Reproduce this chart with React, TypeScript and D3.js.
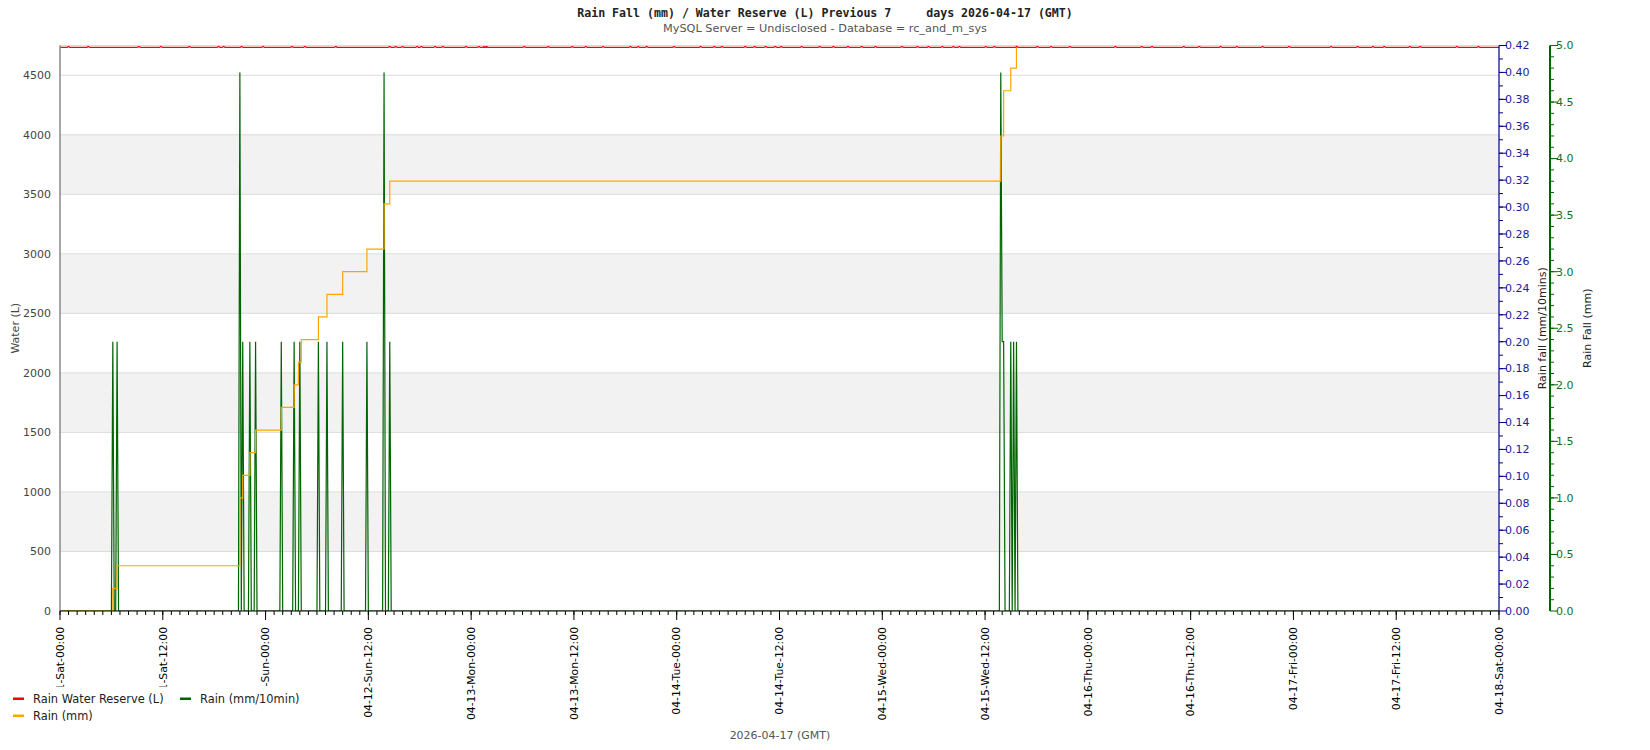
import * as d3 from "d3";

const parseTime = d3.utcParse("%Y-%m-%d %H:%M");
const startTime = "2026-04-11 00:00";
const endTime = "2026-04-18 00:00";

// Rain (mm/10min) readings that are not zero
const rainRateTimes = [
  "2026-04-11 06:10", "2026-04-11 06:40", "2026-04-11 21:00", "2026-04-11 21:20",
  "2026-04-11 22:10", "2026-04-11 22:50", "2026-04-12 01:50", "2026-04-12 03:20",
  "2026-04-12 04:00", "2026-04-12 06:10", "2026-04-12 07:10", "2026-04-12 09:00",
  "2026-04-12 11:50", "2026-04-12 13:50", "2026-04-12 14:30", "2026-04-15 13:50",
  "2026-04-15 14:00", "2026-04-15 14:10", "2026-04-15 15:00", "2026-04-15 15:20",
  "2026-04-15 15:40",
];
const rainRateValues = [
  0.2, 0.2, 0.4, 0.2,
  0.2, 0.2, 0.2, 0.2,
  0.2, 0.2, 0.2, 0.2,
  0.2, 0.4, 0.2, 0.4,
  0.2, 0.2, 0.2, 0.2,
  0.2,
];

// Rain (mm) running total, at each change
const rainTotalTimes = [
  "2026-04-11 00:00", "2026-04-11 06:10", "2026-04-11 06:40", "2026-04-11 21:00",
  "2026-04-11 21:20", "2026-04-11 22:10", "2026-04-11 22:50", "2026-04-12 01:50",
  "2026-04-12 03:20", "2026-04-12 03:50", "2026-04-12 04:10", "2026-04-12 06:10",
  "2026-04-12 07:10", "2026-04-12 09:00", "2026-04-12 11:50", "2026-04-12 13:50",
  "2026-04-12 14:30", "2026-04-15 13:50", "2026-04-15 14:10", "2026-04-15 15:00",
  "2026-04-15 15:40", "2026-04-18 00:00",
];
const rainTotalValues = [
  0, 0.2, 0.4, 1.0,
  1.2, 1.4, 1.6, 1.8,
  2.0, 2.2, 2.4, 2.6,
  2.8, 3.0, 3.2, 3.6,
  3.8, 4.2, 4.6, 4.8,
  5.2, 5.2,
];

// Water reserve: steady reading, with short higher readings at these hours
const reserveLevels = [4735, 4742];
const reserveBlipHours = [
  1.0, 3.3, 9.2, 11.8, 15.1, 18.5, 19.1, 21.2, 23.7, 27.1, 28.6, 32.2,
  38.5, 39.2, 40.0, 41.7, 42.2, 43.8, 44.7, 47.4, 48.9, 49.5, 49.8, 54.2,
  57.0, 59.8, 61.4, 63.4, 66.6, 67.5, 68.5, 71.7, 74.8, 76.4, 77.3, 80.0,
  81.1, 82.4, 83.5, 84.2, 86.6, 88.7, 90.3, 92.0, 93.6, 95.2, 98.3, 100.1,
  101.4, 103.0, 104.3, 105.0, 108.1, 109.1, 111.7, 114.1, 115.7, 117.9, 123.2, 126.3,
  127.5, 131.2, 133.0, 135.5, 137.4, 140.4, 143.5, 148.4, 151.5, 153.3, 154.6, 157.6,
  158.8, 163.1, 165.6,
];

const waterTicks = [0, 500, 1000, 1500, 2000, 2500, 3000, 3500, 4000, 4500];
const waterBands = [500, 1500, 2500, 3500];
const waterMax = 4750;
const rateMax = 0.42;
const totalMax = 5.0;

const W = 1650;
const H = 750;
const left = 60;
const right = 1499;
const top = 45.5;
const bottom = 611;
const font = "DejaVu Sans";

export default function App() {
  const t0 = parseTime(startTime)!;
  const t1 = parseTime(endTime)!;
  const x = d3.scaleTime().domain([t0, t1]).range([left, right]);
  const yWater = d3.scaleLinear().domain([0, waterMax]).range([bottom, top]);
  const yRate = d3.scaleLinear().domain([0, rateMax]).range([bottom, top]);
  const yTotal = d3.scaleLinear().domain([0, totalMax]).range([bottom, top]);

  const step = 10 * 60 * 1000;
  const hour = 3600 * 1000;

  // rain rate line: zero readings either side of each wet reading
  const rateMap = new Map<number, number>();
  rainRateTimes.forEach((t, i) => rateMap.set(+parseTime(t)!, rainRateValues[i]));
  const rateTimes = new Set<number>([+t0, +t1]);
  rateMap.forEach((_, t) => {
    rateTimes.add(t - step);
    rateTimes.add(t);
    rateTimes.add(t + step);
  });
  const ratePts = Array.from(rateTimes).sort((a, b) => a - b)
    .map(t => ({ t: new Date(t), v: rateMap.get(t) ?? 0 }));
  const rateLine = d3.line<{ t: Date; v: number }>()
    .x(d => x(d.t)).y(d => yRate(d.v))(ratePts);

  const totalPts = rainTotalTimes.map((t, i) => ({ t: parseTime(t)!, v: rainTotalValues[i] }));
  const totalLine = d3.line<{ t: Date; v: number }>()
    .curve(d3.curveStepAfter)
    .x(d => x(d.t)).y(d => yTotal(d.v))(totalPts);

  const resPts: { t: Date; v: number }[] = [{ t: t0, v: reserveLevels[0] }];
  reserveBlipHours.forEach(h => {
    const t = +t0 + h * hour;
    resPts.push({ t: new Date(t - step), v: reserveLevels[0] });
    resPts.push({ t: new Date(t), v: reserveLevels[1] });
    resPts.push({ t: new Date(t + step), v: reserveLevels[0] });
  });
  resPts.push({ t: t1, v: reserveLevels[0] });
  const resLine = d3.line<{ t: Date; v: number }>()
    .x(d => x(d.t)).y(d => yWater(d.v))(resPts);

  const majorX = d3.utcHour.every(12)!.range(t0, new Date(+t1 + 1));
  const minorX = d3.utcHour.range(t0, new Date(+t1 + 1));
  const fmt = d3.utcFormat("%m-%d-%a-%H:%M");

  const rateMajor = d3.range(0, 22).map(i => i * 0.02);
  const rateMinor = d3.range(0, 42).map(i => i * 0.01 + 0.01);
  const totalMajor = d3.range(0, 11).map(i => i * 0.5);
  const totalMinor = d3.range(0, 50).map(i => i * 0.1 + 0.1);

  const blue = "#00008b";
  const blueText = "#1c1c9c";
  const green = "#006400";
  const greenText = "#157015";

  return (
    <svg width={W} height={H} style={{ position: "absolute", left: 0, top: 0, background: "#fff" }}
      fontFamily={font}>
      <defs>
        <clipPath id="plot">
          <rect x={left} y={top} width={right - left} height={bottom - top} />
        </clipPath>
      </defs>

      {/* titles */}
      <text x={W / 2} y={16.5} textAnchor="middle" fontFamily="DejaVu Sans Mono" fontWeight="bold"
        fontSize={11.6} fill="#222" xmlSpace="preserve" style={{ whiteSpace: "pre" }}>
        {"Rain Fall (mm) / Water Reserve (L) Previous 7     days 2026-04-17 (GMT)"}
      </text>
      <text x={W / 2} y={32} textAnchor="middle" fontSize={11.3} fill="#555">
        MySQL Server = Undisclosed - Database = rc_and_m_sys
      </text>

      {/* bands and grid */}
      {waterBands.map(b => (
        <rect key={b} x={left} y={yWater(b + 500)} width={right - left}
          height={yWater(b) - yWater(b + 500)} fill="#f2f2f2" />
      ))}
      {waterTicks.slice(1).map(v => (
        <line key={v} x1={left} x2={right} y1={yWater(v)} y2={yWater(v)} stroke="#dcdcdc" />
      ))}
      <line x1={left} x2={right} y1={top} y2={top} stroke="#dcdcdc" />

      {/* series */}
      <g clipPath="url(#plot)" fill="none">
        <path d={rateLine ?? ""} stroke={green} strokeWidth={1.2} />
        <path d={totalLine ?? ""} stroke="#ffa500" strokeWidth={1.2} />
        <path d={resLine ?? ""} stroke="#ff0000" strokeWidth={1.2} />
      </g>

      {/* left axis */}
      <line x1={left} x2={left} y1={top} y2={bottom} stroke="#888" strokeWidth={1.5} />
      {waterTicks.map(v => (
        <text key={v} x={51} y={yWater(v)} dy="0.35em" textAnchor="end" fontSize={11} fill="#444">{v}</text>
      ))}
      <text transform={`translate(15,${(top + bottom) / 2}) rotate(-90)`} textAnchor="middle"
        dy="0.35em" fontSize={11} fill="#444">Water (L)</text>

      {/* x axis */}
      <line x1={left} x2={right} y1={bottom} y2={bottom} stroke="#000" />
      {minorX.map(t => (
        <line key={+t} x1={x(t)} x2={x(t)} y1={bottom} y2={bottom + 4} stroke="#000" />
      ))}
      {majorX.map(t => (
        <g key={+t}>
          <line x1={x(t)} x2={x(t)} y1={bottom} y2={bottom + 9} stroke="#000" />
          <text transform={`translate(${x(t)},627) rotate(-90)`} textAnchor="end" dy="0.35em"
            fontSize={10.8} fill="#000">{fmt(t)}</text>
        </g>
      ))}

      {/* blue axis */}
      <line x1={right} x2={right} y1={top} y2={bottom} stroke={blue} strokeWidth={1.2} />
      {rateMinor.map(v => (
        <line key={v} x1={right} x2={right + 4} y1={yRate(v)} y2={yRate(v)} stroke={blue} />
      ))}
      {rateMajor.map(v => (
        <g key={v}>
          <line x1={right} x2={right + 8} y1={yRate(v)} y2={yRate(v)} stroke={blue} />
          <text x={right + 6} y={yRate(v)} dy="0.35em" fontSize={11} fill={blueText}>{v.toFixed(2)}</text>
        </g>
      ))}
      <text transform={`translate(1542,${(top + bottom) / 2}) rotate(-90)`} textAnchor="middle"
        dy="0.35em" fontSize={11} fill="#222">Rain fall (mm/10mins)</text>

      {/* green axis */}
      <line x1={1550} x2={1550} y1={top} y2={bottom} stroke={green} strokeWidth={2} />
      {totalMinor.map(v => (
        <line key={v} x1={1550} x2={1554} y1={yTotal(v)} y2={yTotal(v)} stroke={green} />
      ))}
      {totalMajor.map(v => (
        <g key={v}>
          <line x1={1550} x2={1558} y1={yTotal(v)} y2={yTotal(v)} stroke={green} />
          <text x={1556} y={yTotal(v)} dy="0.35em" fontSize={11} fill={greenText}>{v.toFixed(1)}</text>
        </g>
      ))}
      <text transform={`translate(1587,${(top + bottom) / 2}) rotate(-90)`} textAnchor="middle"
        dy="0.35em" fontSize={11} fill="#222">Rain Fall (mm)</text>

      {/* legend */}
      <rect x={0} y={686.5} width={305} height={38} fill="#fff" />
      <rect x={13} y={697.5} width={11} height={2.5} fill="#ff0000" />
      <text x={33} y={698.7} dy="0.35em" fontSize={11.4} fill="#222">Rain Water Reserve (L)</text>
      <rect x={180} y={697.5} width={11} height={2.5} fill={green} />
      <text x={200} y={698.7} dy="0.35em" fontSize={11.4} fill="#222">Rain (mm/10min)</text>
      <rect x={13} y={714.5} width={11} height={2.5} fill="#ffa500" />
      <text x={33} y={715.7} dy="0.35em" fontSize={11.4} fill="#222">Rain (mm)</text>

      <text x={780} y={735.6} dy="0.35em" textAnchor="middle" fontSize={11} fill="#555">2026-04-17 (GMT)</text>
    </svg>
  );
}
